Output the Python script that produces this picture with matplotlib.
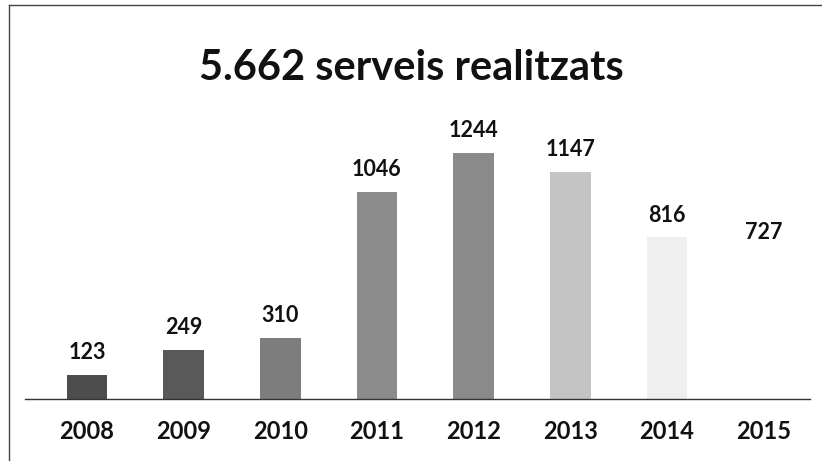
import matplotlib
matplotlib.use("Agg")
import matplotlib.pyplot as plt
from matplotlib.lines import Line2D

years = ["2008", "2009", "2010", "2011", "2012", "2013", "2014", "2015"]
services = [123, 249, 310, 1046, 1244, 1147, 816, 727]
bar_colors = ["#4d4d4d", "#595959", "#7d7d7d", "#8c8c8c", "#8a8a8a",
              "#c4c4c4", "#efefef", "#ffffff"]
title = "5.662 serveis realitzats"

plt.rcParams['font.family'] = ['Lato', 'DejaVu Sans']

W, H = 822, 461
fig = plt.figure(figsize=(W / 100, H / 100), dpi=100)

# axes in pixel coordinates
ax_left, ax_right = 25, 810
ax_top, ax_bottom = 100, 399
ax = fig.add_axes([ax_left / W, 1 - ax_bottom / H,
                   (ax_right - ax_left) / W, (ax_bottom - ax_top) / H])

x = list(range(len(years)))
ax.bar(x, services, width=0.42, color=bar_colors, edgecolor="none")
ax.set_xlim(-0.64, 7.48)
ax.set_ylim(0, 1510)

for xi, v in zip(x, services):
    ax.annotate(str(v), (xi, v), xytext=(0, 16), textcoords="offset points",
                ha="center", va="center", fontsize=15.5, fontweight="bold",
                color="#111111")

ax.set_xticks(x)
ax.set_xticklabels(years, fontsize=17, fontweight="bold", color="#111111")
ax.tick_params(axis="x", length=0, pad=15)
ax.set_yticks([])
for s in ["left", "right", "top"]:
    ax.spines[s].set_visible(False)
ax.spines["bottom"].set_color("#333333")
ax.spines["bottom"].set_linewidth(1.0)

fig.text(0.5, 1 - 68 / H, title, ha="center", va="center",
         fontsize=30, fontweight="bold", color="#111111")

# chart frame (left and top edges, as in the scan)
fig.add_artist(Line2D([9 / W, 9 / W], [0, 1 - 5 / H], color="#444444",
                      linewidth=1.0, transform=fig.transFigure))
fig.add_artist(Line2D([9 / W, 1], [1 - 5 / H, 1 - 5 / H], color="#444444",
                      linewidth=1.0, transform=fig.transFigure))

fig.savefig("out.png", dpi=100, facecolor="white")
